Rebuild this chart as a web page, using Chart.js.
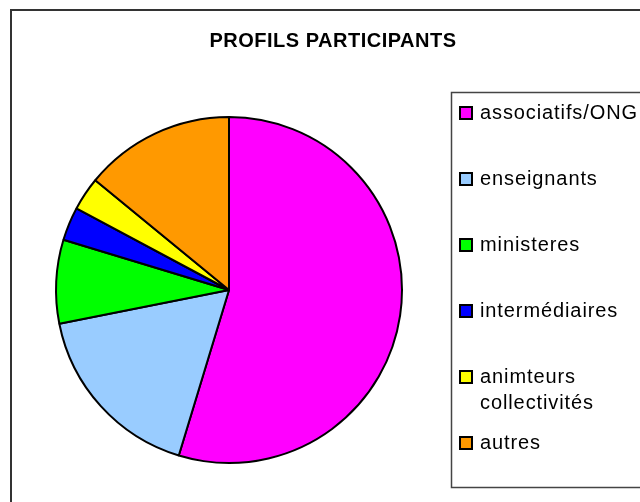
<!DOCTYPE html>
<html>
<head>
<meta charset="utf-8">
<script src="https://cdn.jsdelivr.net/npm/chart.js@4/dist/chart.umd.min.js"></script>
<style>
  html, body { margin: 0; padding: 0; background: #fff; }
  canvas { display: block; }
</style>
</head>
<body>
<canvas id="pieChart" width="640" height="502"></canvas>
<script>
// Chart data
var chartTitle = "PROFILS PARTICIPANTS";
var categories = ["associatifs/ONG", "enseignants", "ministeres", "intermédiaires", ["animteurs", "collectivités"], "autres"];
var participants = [35, 11, 5, 2, 2, 9];
var sliceColors = ["#FF00FF", "#99CCFF", "#00FF00", "#0000FF", "#FFFF00", "#FF9900"];

document.addEventListener("DOMContentLoaded", function () {
    var fontFamily = "'Liberation Sans', Arial, sans-serif";

    // Frame, title and the boxed legend, drawn Excel style
    var excelFrame = {
        id: "excelFrame",
        beforeDraw: function (chart) {
            var ctx = chart.ctx;
            ctx.save();
            ctx.fillStyle = "#fff";
            ctx.fillRect(0, 0, chart.width, chart.height);
            ctx.strokeStyle = "#333";
            ctx.lineWidth = 2;
            ctx.strokeRect(11, 10, 700, 600);
            ctx.restore();
        },
        afterDraw: function (chart) {
            var ctx = chart.ctx;
            ctx.save();

            // title
            ctx.fillStyle = "#000";
            ctx.font = "bold 20px " + fontFamily;
            ctx.letterSpacing = "0.5px";
            ctx.textAlign = "center";
            ctx.textBaseline = "alphabetic";
            ctx.fillText(chartTitle, 333, 47);

            // legend box
            ctx.strokeStyle = "#444";
            ctx.lineWidth = 1.5;
            ctx.strokeRect(451.5, 92.5, 300, 395);

            // legend items
            var labels = chart.data.labels;
            var colors = chart.data.datasets[0].backgroundColor;
            ctx.font = "20px " + fontFamily;
            ctx.letterSpacing = "0.9px";
            ctx.textAlign = "left";
            var top = 107;
            for (var i = 0; i < labels.length; i++) {
                var y = top + i * 66;
                ctx.fillStyle = colors[i];
                ctx.fillRect(460, y, 12, 12);
                ctx.strokeStyle = "#000";
                ctx.lineWidth = 2;
                ctx.strokeRect(460, y, 12, 12);
                ctx.fillStyle = "#000";
                var lines = Array.isArray(labels[i]) ? labels[i] : [labels[i]];
                for (var j = 0; j < lines.length; j++) {
                    ctx.fillText(lines[j], 480, y + 12 + j * 26);
                }
            }
            ctx.restore();
        }
    };

    var ctx = document.getElementById("pieChart").getContext("2d");
    new Chart(ctx, {
        type: "pie",
        data: {
            labels: categories,
            datasets: [{
                data: participants,
                backgroundColor: sliceColors,
                borderColor: "#000",
                borderWidth: 2,
            }],
        },
        options: {
            responsive: false,
            animation: false,
            layout: {
                padding: { left: 55, right: 237, top: 116, bottom: 38 }
            },
            plugins: {
                legend: { display: false },
                title: { display: false },
                tooltip: { enabled: false }
            }
        },
        plugins: [excelFrame]
    });
});
</script>
</body>
</html>
